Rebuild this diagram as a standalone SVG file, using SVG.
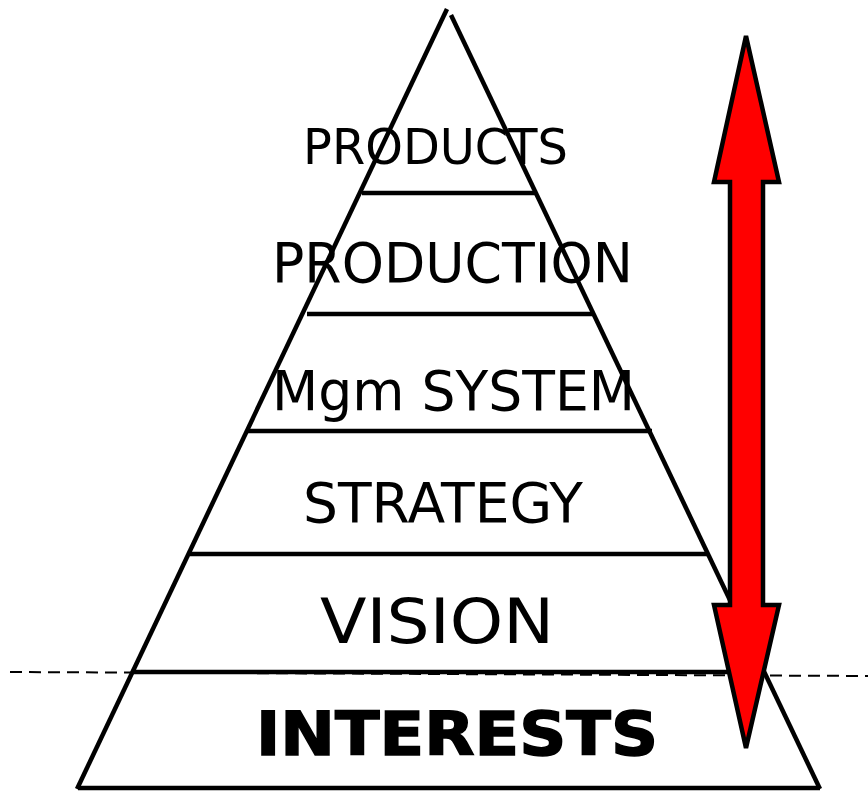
<svg xmlns="http://www.w3.org/2000/svg" width="868" height="791" viewBox="0 0 868 791">
<style>
.ln{stroke:#000;stroke-width:4.5;fill:none;stroke-linecap:butt}
.dash{stroke:#000;stroke-width:2;stroke-dasharray:12 7;fill:none}
.t{font-family:"DejaVu Sans","Verdana",sans-serif;fill:#000}
.b{font-weight:bold;stroke:#000;stroke-width:1.5}
.arrow{fill:#ff0000;stroke:#000;stroke-width:4.5;stroke-linejoin:miter}
</style>
<rect width="868" height="791" fill="#fff"/>
<g id="pyramid">
<line class="ln" x1="447" y1="9" x2="77" y2="789"/>
<line class="ln" x1="451" y1="15" x2="820" y2="789"/>
<line class="ln" x1="78" y1="788" x2="820" y2="788"/>
</g>
<g id="level-products">
<line class="ln" x1="362" y1="193" x2="535" y2="193"/>
<text class="t" x="303" y="164" font-size="49" textLength="265" lengthAdjust="spacingAndGlyphs">PRODUCTS</text>
</g>
<g id="level-production">
<line class="ln" x1="307" y1="314" x2="594" y2="314"/>
<text class="t" x="272" y="282" font-size="55" textLength="361" lengthAdjust="spacingAndGlyphs">PRODUCTION</text>
</g>
<g id="level-mgm">
<line class="ln" x1="246" y1="431" x2="652" y2="431"/>
<text class="t" x="272" y="410" font-size="55" textLength="363" lengthAdjust="spacingAndGlyphs">Mgm SYSTEM</text>
</g>
<g id="level-strategy">
<line class="ln" x1="190" y1="554" x2="707" y2="554"/>
<text class="t" x="303" y="522" font-size="55" textLength="280" lengthAdjust="spacingAndGlyphs">STRATEGY</text>
</g>
<g id="level-vision">
<line class="ln" x1="131" y1="672" x2="730" y2="672"/>
<text class="t" x="320" y="643" font-size="62" textLength="234" lengthAdjust="spacingAndGlyphs">VISION</text>
</g>
<g id="level-interests">
<text class="t b" x="256" y="755" font-size="61" textLength="402" lengthAdjust="spacingAndGlyphs">INTERESTS</text>
</g>
<g id="connectors">
<line class="dash" x1="10" y1="672" x2="868" y2="676"/>
<path id="arrow" class="arrow" d="M746,36 L779,182 L763,182 L763,605 L779,605 L746,748 L714,605 L730,605 L730,182 L714,182 Z"/>
</g>
</svg>
